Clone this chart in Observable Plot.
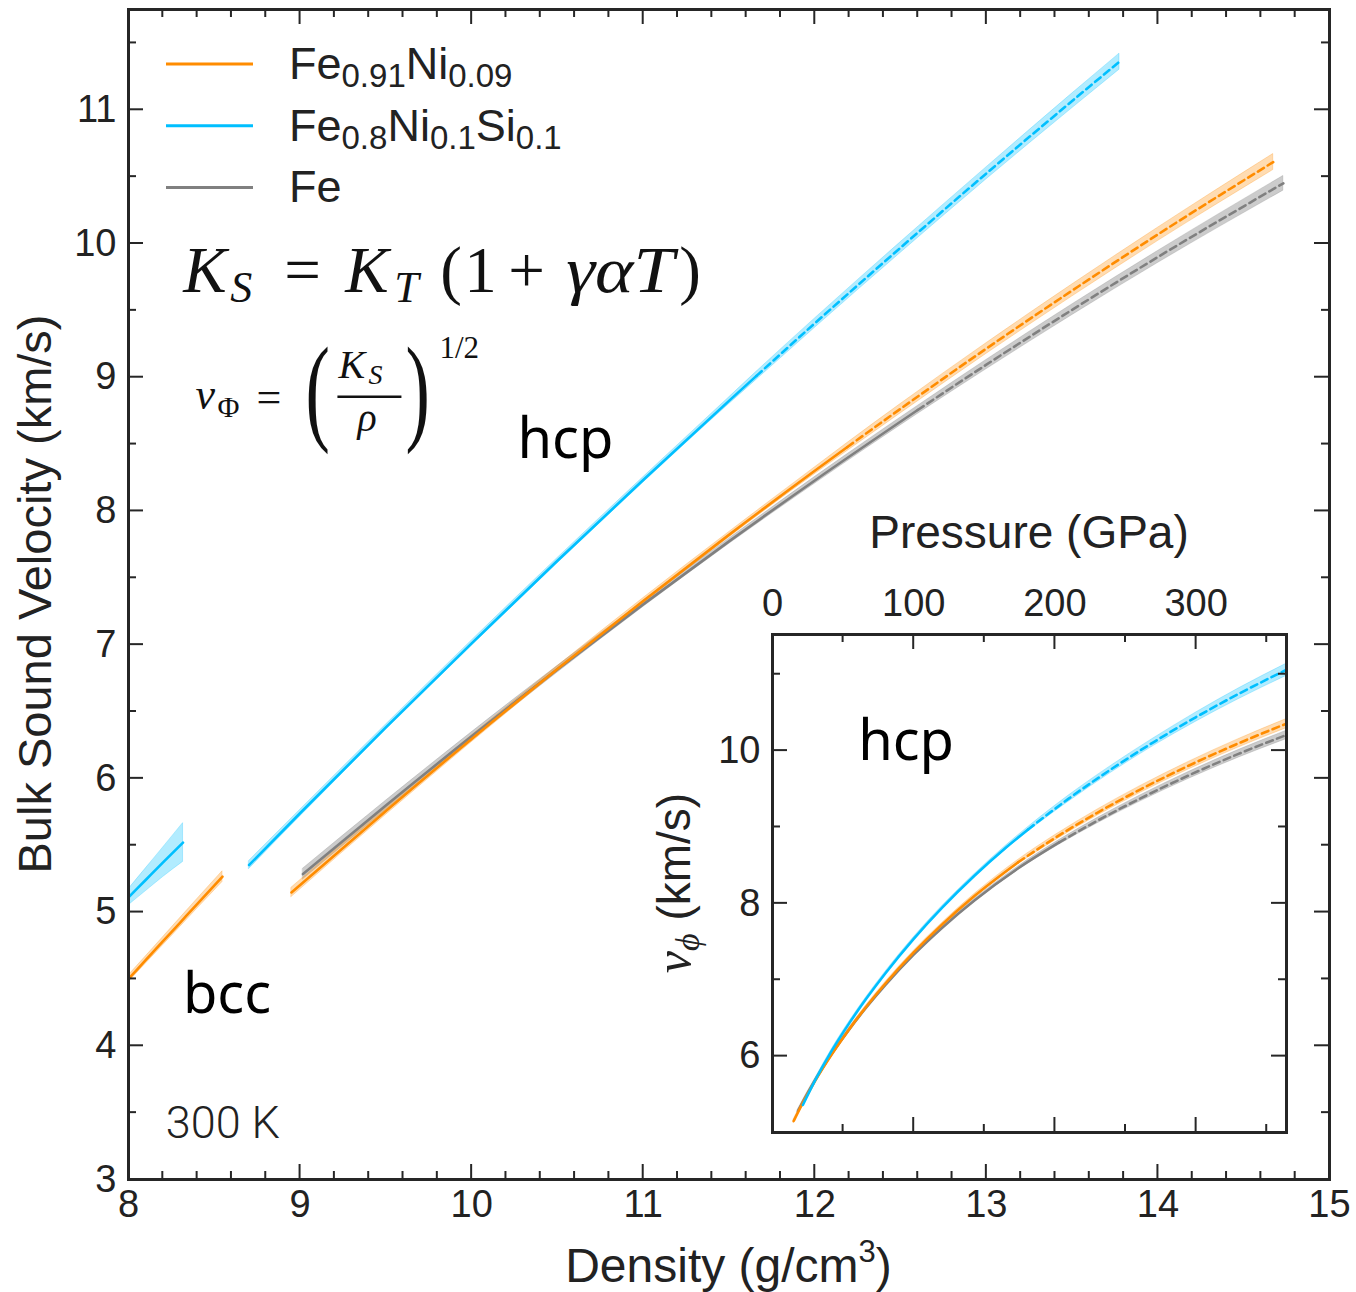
<!DOCTYPE html>
<html>
<head>
<meta charset="utf-8">
<script src="https://cdn.jsdelivr.net/npm/d3@7"></script>
<script src="https://cdn.jsdelivr.net/npm/@observablehq/plot@0.6"></script>
<style>
  html, body { margin: 0; padding: 0; background: #fff; }
  #chart { position: relative; width: 1356px; height: 1292px; }
  #chart > svg { position: absolute; left: 0; top: 0; overflow: visible; }
  #chart > svg.inset { pointer-events: none; }
</style>
</head>
<body>
<div id="chart"></div>
<script>
// ---------------------------------------------------------------------------
// Bulk sound velocity of Fe, Fe-Ni and Fe-Ni-Si alloys at 300 K
// ---------------------------------------------------------------------------
const ORANGE = "#ff8c00";   // Fe0.91Ni0.09
const BLUE   = "#00bfff";   // Fe0.8Ni0.1Si0.1
const GRAY   = "#808080";   // Fe
const INK    = "#262626";
const SANS   = "'Liberation Sans', Arial, Helvetica, sans-serif";
const SERIF  = "'Liberation Serif', 'Times New Roman', serif";

// --- main panel: density (g/cm³) vs bulk sound velocity (km/s) -------------
// bcc phase
const bccNiRho = [8.0, 8.1, 8.2, 8.3, 8.4, 8.548];
const bccNiV   = [4.50, 4.64, 4.78, 4.92, 5.06, 5.265];
const bccNiErr = [0.025, 0.027, 0.03, 0.033, 0.036, 0.04];

const bccSiRho = [8.0, 8.1, 8.2, 8.318];
const bccSiV   = [5.11, 5.24, 5.37, 5.52];
const bccSiErr = [0.06, 0.085, 0.11, 0.145];

// hcp phase (dashed beyond the measured range)
const hcpNiRho = [8.95, 9.5, 10, 10.5, 11, 11.5, 12, 12.19, 12.5, 13, 13.5, 14, 14.672];
const hcpNiV   = [5.147, 5.756, 6.295, 6.818, 7.327, 7.821, 8.300, 8.478, 8.764, 9.214, 9.648, 10.068, 10.609];
const hcpNiErr = [0.035, 0.03, 0.025, 0.02, 0.02, 0.02, 0.025, 0.03, 0.035, 0.04, 0.045, 0.05, 0.06];
const hcpNiDashFrom = 12.19;

const hcpFeRho = [9.017, 9.5, 10, 10.5, 11, 11.5, 12, 12.6, 13, 13.5, 14, 14.731];
const hcpFeV   = [5.284, 5.797, 6.314, 6.815, 7.301, 7.772, 8.228, 8.755, 9.094, 9.504, 9.899, 10.45];
const hcpFeErr = [0.04, 0.035, 0.03, 0.025, 0.02, 0.02, 0.025, 0.03, 0.035, 0.04, 0.045, 0.055];
const hcpFeDashFrom = 12.6;

const hcpSiRho = [8.703, 9, 9.5, 10, 10.5, 11, 11.5, 11.66, 12, 12.5, 13, 13.5, 13.776];
const hcpSiV   = [5.352, 5.739, 6.381, 7.010, 7.627, 8.231, 8.823, 9.01, 9.403, 9.969, 10.524, 11.066, 11.36];
const hcpSiErr = [0.03, 0.025, 0.02, 0.02, 0.02, 0.02, 0.025, 0.03, 0.035, 0.04, 0.045, 0.055, 0.06];
const hcpSiDashFrom = 11.66;

// --- inset: pressure (GPa) vs velocity (km/s), hcp phase -------------------
const insNiP   = [15, 20, 30, 42, 55, 67, 80, 100, 120, 143, 174, 200, 230, 260, 295, 330, 364];
const insNiV   = [5.15, 5.335, 5.67, 6.024, 6.369, 6.66, 6.951, 7.357, 7.721, 8.096, 8.539, 8.856, 9.186, 9.486, 9.805, 10.095, 10.353];
const insNiErr = [0.02, 0.02, 0.02, 0.02, 0.02, 0.02, 0.02, 0.02, 0.02, 0.025, 0.03, 0.035, 0.04, 0.045, 0.05, 0.055, 0.06];
const insNiDashFrom = 174;

const insFeP   = [18, 25, 35, 42, 55, 67, 80, 100, 120, 143, 174, 203, 230, 260, 295, 330, 364];
const insFeV   = [5.28, 5.52, 5.83, 6.03, 6.366, 6.649, 6.932, 7.328, 7.678, 8.037, 8.459, 8.798, 9.081, 9.369, 9.677, 9.957, 10.205];
const insFeErr = [0.02, 0.02, 0.02, 0.02, 0.02, 0.02, 0.02, 0.02, 0.02, 0.02, 0.025, 0.03, 0.035, 0.04, 0.045, 0.05, 0.055];
const insFeDashFrom = 203;

const insSiP   = [21.5, 30, 42, 55, 67, 80, 100, 120, 143, 165, 181, 210, 240, 270, 300, 330, 364];
const insSiV   = [5.36, 5.675, 6.071, 6.448, 6.766, 7.085, 7.535, 7.941, 8.362, 8.725, 8.968, 9.374, 9.758, 10.112, 10.439, 10.742, 11.058];
const insSiErr = [0.02, 0.02, 0.02, 0.02, 0.02, 0.02, 0.02, 0.02, 0.02, 0.025, 0.03, 0.04, 0.045, 0.05, 0.06, 0.07, 0.08];
const insSiDashFrom = 181;

// axis ticks
const mainXTicks = [8, 9, 10, 11, 12, 13, 14, 15];
const mainYTicks = [3, 4, 5, 6, 7, 8, 9, 10, 11];
const insetXTicks = [0, 100, 200, 300];
const insetYTicks = [6, 8, 10];

// legend entries (text runs: normal / subscript)
const legendEntries = [
  {color: ORANGE, runs: [["Fe"], ["0.91", "sub"], ["Ni"], ["0.09", "sub"]]},
  {color: BLUE,   runs: [["Fe"], ["0.8", "sub"], ["Ni"], ["0.1", "sub"], ["Si"], ["0.1", "sub"]]},
  {color: GRAY,   runs: [["Fe"]]}
];

// ---------------------------------------------------------------------------
function seriesRows(xs, vs, errs) {
  return xs.map((x, i) => ({x, v: vs[i], lo: vs[i] - errs[i], hi: vs[i] + errs[i]}));
}

function bandMarks(s, opacity) {
  return [Plot.areaY(seriesRows(s.x, s.v, s.err), {
    x: "x", y1: "lo", y2: "hi", curve: "monotone-x",
    fill: s.color, fillOpacity: opacity,
    stroke: s.color, strokeOpacity: 0.25, strokeWidth: 1
  })];
}

function lineMarks(s) {
  const rows = seriesRows(s.x, s.v, s.err);
  const solid = rows.filter(d => d.x <= s.dashFrom);
  const dashed = rows.filter(d => d.x >= s.dashFrom);
  const out = [];
  if (solid.length > 1) out.push(Plot.line(solid, {x: "x", y: "v", stroke: s.color, strokeWidth: 2.6, curve: "monotone-x"}));
  if (dashed.length > 1) out.push(Plot.line(dashed, {x: "x", y: "v", stroke: s.color, strokeWidth: 2.6, strokeDasharray: "7,4.5", curve: "monotone-x"}));
  return out;
}

const mainSeries = [
  {color: GRAY,   x: hcpFeRho, v: hcpFeV, err: hcpFeErr, dashFrom: hcpFeDashFrom, op: 0.4},
  {color: ORANGE, x: bccNiRho, v: bccNiV, err: bccNiErr, dashFrom: Infinity, op: 0.3},
  {color: ORANGE, x: hcpNiRho, v: hcpNiV, err: hcpNiErr, dashFrom: hcpNiDashFrom, op: 0.3},
  {color: BLUE,   x: bccSiRho, v: bccSiV, err: bccSiErr, dashFrom: Infinity, op: 0.3},
  {color: BLUE,   x: hcpSiRho, v: hcpSiV, err: hcpSiErr, dashFrom: hcpSiDashFrom, op: 0.3}
];

const insetSeries = [
  {color: GRAY,   x: insFeP, v: insFeV, err: insFeErr, dashFrom: insFeDashFrom, op: 0.4},
  {color: ORANGE, x: insNiP, v: insNiV, err: insNiErr, dashFrom: insNiDashFrom, op: 0.3},
  {color: BLUE,   x: insSiP, v: insSiV, err: insSiErr, dashFrom: insSiDashFrom, op: 0.3}
];

const W = 1356, H = 1292;

const main = Plot.plot({
  width: W, height: H,
  marginLeft: 128, marginRight: 27, marginTop: 9, marginBottom: 113,
  x: {domain: [8, 15]},
  y: {domain: [3, 11.75]},
  style: {fontFamily: SANS, fontSize: "38px", color: "#222", background: "transparent", overflow: "visible"},
  marks: [
    ...mainSeries.flatMap(s => bandMarks(s, s.op)),
    ...mainSeries.flatMap(lineMarks),
    Plot.frame({stroke: INK, strokeWidth: 3}),
    Plot.axisX({ticks: mainXTicks, tickSize: 0, tickPadding: 11, tickFormat: d => String(d), label: null, fontSize: 38}),
    Plot.axisY({ticks: mainYTicks, tickSize: 0, tickPadding: 12, tickFormat: d => String(d), label: null, fontSize: 38})
  ]
});

const inset = Plot.plot({
  width: W, height: H,
  marginLeft: 772, marginRight: 70, marginTop: 634, marginBottom: 160,
  x: {domain: [0, 364]},
  y: {domain: [5, 11.52]},
  style: {fontFamily: SANS, fontSize: "38px", color: "#222", background: "transparent", overflow: "visible"},
  marks: [
    ...insetSeries.flatMap(s => bandMarks(s, s.op)),
    ...insetSeries.flatMap(lineMarks),
    Plot.frame({stroke: INK, strokeWidth: 3}),
    Plot.axisX({anchor: "top", ticks: insetXTicks, tickSize: 0, tickPadding: 19, tickFormat: d => String(d), label: null, fontSize: 38}),
    Plot.axisY({anchor: "left", ticks: insetYTicks, tickSize: 0, tickPadding: 12, tickFormat: d => String(d), label: null, fontSize: 38})
  ]
});
inset.classList.add("inset");

const chart = document.getElementById("chart");
chart.append(main, inset);

// inward ticks on all four sides of a frame
function frameTicks(plot, xStep, xMajorEvery, yStep, yMajorEvery, major, minor) {
  const X = plot.scale("x"), Y = plot.scale("y");
  const [l, r] = X.range, [b, t] = Y.range;
  const g = d3.select(plot).append("g").attr("stroke", INK).attr("stroke-width", 2).attr("fill", "none");
  const near = (a, m) => Math.abs(a / m - Math.round(a / m)) < 1e-6;
  for (const v of d3.range(X.domain[0], X.domain[1] + 1e-9, xStep)) {
    const px = X.apply(v), L = near(v, xMajorEvery) ? major : minor;
    g.append("line").attr("x1", px).attr("x2", px).attr("y1", b).attr("y2", b - L);
    g.append("line").attr("x1", px).attr("x2", px).attr("y1", t).attr("y2", t + L);
  }
  for (const v of d3.range(Y.domain[0], Y.domain[1] + 1e-9, yStep)) {
    const py = Y.apply(v), L = near(v, yMajorEvery) ? major : minor;
    g.append("line").attr("x1", l).attr("x2", l + L).attr("y1", py).attr("y2", py);
    g.append("line").attr("x1", r).attr("x2", r - L).attr("y1", py).attr("y2", py);
  }
}
frameTicks(main, 0.2, 1, 0.5, 1, 15, 8);
frameTicks(inset, 50, 100, 1, 2, 15, 8);

// text with runs (normal / sub / sup)
function richText(parent, runs, attrs, opt = {}) {
  const t = parent.append("text");
  for (const [k, v] of Object.entries(attrs)) t.attr(k, v);
  let shift = 0;
  for (const [str, kind] of runs) {
    const s = t.append("tspan").text(str);
    const target = kind === "sub" ? (opt.sub || 8) : kind === "sup" ? -(opt.sup || 18) : 0;
    if (target !== shift) { s.attr("dy", target - shift); shift = target; }
    if (kind === "sub" || kind === "sup") s.attr("font-size", opt.small || 30);
  }
  return t;
}

const MX = main.scale("x"), MY = main.scale("y");
const IX = inset.scale("x"), IY = inset.scale("y");
// Plot sets text-anchor: middle on its root svg; annotations start-anchored
const gm = d3.select(main).append("g").attr("text-anchor", "start");
const gi = d3.select(inset).append("g").attr("text-anchor", "start");

// axis titles
richText(gm, [["Density (g/cm"], ["3", "sup"], [")"]],
  {x: (MX.range[0] + MX.range[1]) / 2, y: H - 10, "text-anchor": "middle", "font-size": 48, fill: "#222", "font-family": SANS},
  {small: 31, sup: 20});
gm.append("text")
  .attr("transform", `translate(${MX.range[0] - 77},${(MY.range[0] + MY.range[1]) / 2}) rotate(-90)`)
  .attr("text-anchor", "middle").attr("font-size", 47).attr("fill", "#222").attr("font-family", SANS)
  .text("Bulk Sound Velocity (km/s)");

// legend
const lg = gm.append("g");
legendEntries.forEach((e, i) => {
  const y = MY.range[1] + 55 + i * 61.7;
  lg.append("line").attr("x1", MX.range[0] + 38).attr("x2", MX.range[0] + 125)
    .attr("y1", y).attr("y2", y).attr("stroke", e.color).attr("stroke-width", 3);
  richText(lg, e.runs, {x: MX.range[0] + 161, y: y + 15, "font-size": 45, fill: "#222", "font-family": SANS}, {small: 33, sub: 8});
});

// equations
const eq = gm.append("g").attr("fill", "#111").attr("font-family", SERIF);
const e1x = MX.apply(8.322), e1y = MY.apply(9.632);
const eq1 = [
  ["K", 0, 0, 65, true], ["S", 47, 10, 44, true], ["=", 101, 0, 65, false],
  ["K", 162, 0, 65, true], ["T", 211, 10, 44, true], ["(", 257, 0, 65, false],
  ["1", 281, 0, 65, false], ["+", 325, 0, 65, false], ["γαT", 383, 0, 65, true, 108], [")", 496, 0, 65, false]
];
for (const [s, dx, dy, size, it, len] of eq1) {
  const t = eq.append("text").attr("x", e1x + dx).attr("y", e1y + dy).attr("font-size", size)
    .attr("font-style", it ? "italic" : "normal").text(s);
  if (len) t.attr("textLength", len).attr("lengthAdjust", "spacingAndGlyphs");
}
const e2x = MX.apply(8.393), e2y = MY.apply(8.76);
const eq2 = [
  ["v", 0, 0, 44, true], ["Φ", 22, 8, 30, false], ["=", 61, 3, 44, false],
  ["K", 143, -31, 40, true], ["S", 173, -25, 28, true],
  ["ρ", 162, 22, 40, true], ["1/2", 244, -51, 31, false]
];
for (const [s, dx, dy, size, it] of eq2) {
  eq.append("text").attr("x", e2x + dx).attr("y", e2y + dy).attr("font-size", size)
    .attr("font-style", it ? "italic" : "normal").text(s);
}
// tall, thin parentheses around the fraction
for (const [s, dx] of [["(", 110], [")", 210]]) {
  eq.append("text").attr("transform", `translate(${e2x + dx},${e2y + 20}) scale(0.62,1)`)
    .attr("font-size", 118).text(s);
}
eq.append("line").attr("x1", e2x + 142).attr("x2", e2x + 206)
  .attr("y1", e2y - 12).attr("y2", e2y - 12).attr("stroke", "#111").attr("stroke-width", 2.5);

// phase and temperature labels
const PHASE_FONT = "'Noto Sans', 'Open Sans', sans-serif";
gm.append("text").attr("x", MX.apply(10.27)).attr("y", MY.apply(8.39))
  .attr("font-family", PHASE_FONT).attr("font-size", 56).attr("fill", "#000").text("hcp");
gm.append("text").attr("x", MX.apply(8.32)).attr("y", MY.apply(4.24))
  .attr("font-family", PHASE_FONT).attr("font-size", 56).attr("fill", "#000").text("bcc");
gm.append("text").attr("x", MX.apply(8.22)).attr("y", MY.apply(3.31))
  .attr("font-family", "Roboto, " + SANS).attr("font-weight", 300).attr("font-size", 45).attr("fill", "#222").text("300 K");

// inset titles and label
gi.append("text").attr("x", (IX.range[0] + IX.range[1]) / 2).attr("y", IY.range[1] - 86)
  .attr("text-anchor", "middle").attr("font-family", SANS).attr("font-size", 46).attr("fill", "#222")
  .text("Pressure (GPa)");
const ylab = gi.append("text")
  .attr("transform", `translate(${IX.range[0] - 82},${(IY.range[0] + IY.range[1]) / 2}) rotate(-90)`)
  .attr("text-anchor", "middle").attr("font-size", 46).attr("fill", "#222").attr("font-family", SANS);
ylab.append("tspan").attr("font-family", SERIF).attr("font-style", "italic").attr("font-size", 50).text("v");
ylab.append("tspan").attr("font-family", SERIF).attr("font-style", "italic").attr("font-size", 34).attr("dy", 9).text("ϕ");
ylab.append("tspan").attr("dy", -9).text(" (km/s)");
gi.append("text").attr("x", IX.apply(61)).attr("y", IY.apply(9.87))
  .attr("font-family", PHASE_FONT).attr("font-size", 56).attr("fill", "#000").text("hcp");
</script>
</body>
</html>
